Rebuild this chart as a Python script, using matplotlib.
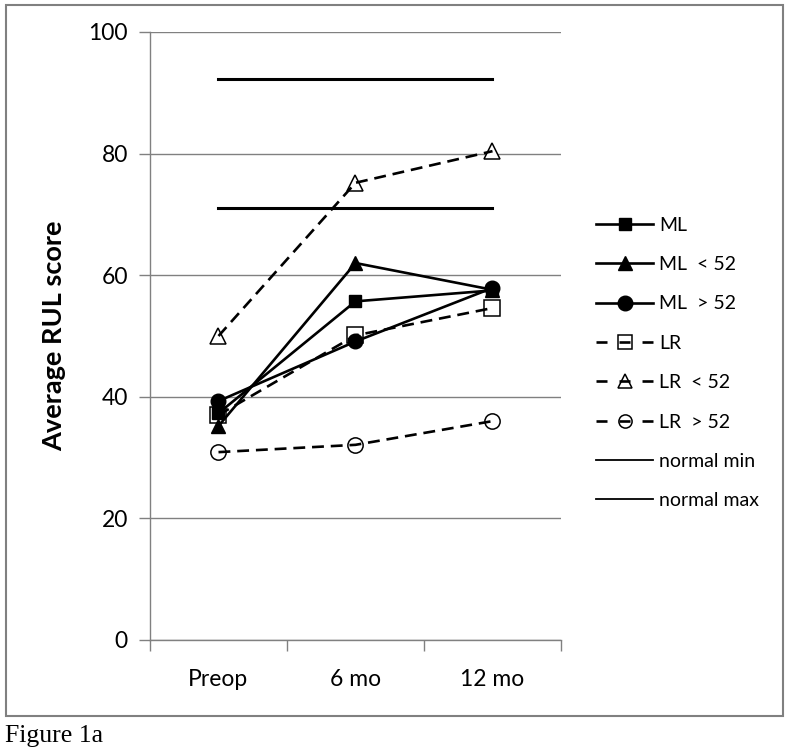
import matplotlib
matplotlib.use("Agg")
import matplotlib.pyplot as plt
from matplotlib.patches import Rectangle
from matplotlib.lines import Line2D
from matplotlib.legend_handler import HandlerTuple

# data
timepoints = ["Preop", "6 mo", "12 mo"]
ml_all = [37.3, 55.7, 57.5]
ml_lt52 = [35.2, 62.0, 57.6]
ml_gt52 = [39.3, 49.1, 57.9]
lr_all = [37.0, 50.1, 54.6]
lr_lt52 = [50.0, 75.2, 80.4]
lr_gt52 = [30.9, 32.1, 36.0]
normal_min = [71.0, 71.0, 71.0]
normal_max = [92.2, 92.2, 92.2]

plt.rcParams['font.family'] = ['Lato', 'DejaVu Sans']

fig = plt.figure(figsize=(7.92, 7.54), dpi=100)
ax = fig.add_axes([150 / 792, 1 - 640 / 754, 411 / 792, 608 / 754])

x = [0, 1, 2]
lw = 1.9
dash = (4.5, 2.6)

series = [
    ("ML", ml_all, "s", "black", "-", 9),
    ("ML  < 52", ml_lt52, "^", "black", "-", 10),
    ("ML  > 52", ml_gt52, "o", "black", "-", 10.5),
    ("LR", lr_all, "s", "white", "--", 11),
    ("LR  < 52", lr_lt52, "^", "white", "--", 11),
    ("LR  > 52", lr_gt52, "o", "white", "--", 11),
]

handles = []
labels = []
for name, vals, mk, face, ls, ms in series:
    if face == "black":
        ln, = ax.plot(x, vals, color="black", lw=lw, marker=mk, ms=ms,
                      mfc="black", mec="black", zorder=4)
        handles.append(ln)
    else:
        # open markers sit under the dashed line, like the original
        mks, = ax.plot(x, vals, ls="none", marker=mk, ms=ms, mfc="white",
                       mec="black", mew=1.1, zorder=3)
        ln, = ax.plot(x, vals, color="black", lw=lw, zorder=4)
        ln.set_dashes(dash)
        # legend gets an even "- o -" pattern
        leg_mk = Line2D([], [], ls="none", marker=mk, ms=ms - 1.5, mfc="white",
                        mec="black", mew=1.1)
        leg_ln = Line2D([], [], color="black", lw=lw, dashes=(4.17, 4.55))
        handles.append((leg_mk, leg_ln))
    labels.append(name)

for name, vals in [("normal min", normal_min), ("normal max", normal_max)]:
    ln, = ax.plot(x, vals, color="black", lw=2.2, zorder=4)
    handles.append(Line2D([], [], color="black", lw=1.3))
    labels.append(name)

ax.set_xlim(-0.5, 2.5)
ax.set_ylim(0, 100)
ax.set_yticks([0, 20, 40, 60, 80, 100])
ax.set_xticks(x)
ax.set_xticklabels(timepoints)
ax.set_xticks([-0.5, 0.5, 1.5, 2.5], minor=True)
ax.tick_params(axis="x", which="major", length=0, pad=21, labelsize=16.5)
ax.tick_params(axis="x", which="minor", length=8, color="#808080", width=1)
ax.tick_params(axis="y", length=8, color="#808080", width=1, pad=8, labelsize=16.5)
ax.grid(axis="y", color="#808080", lw=1)
ax.set_axisbelow(True)
for s in ["top", "right"]:
    ax.spines[s].set_visible(False)
for s in ["left", "bottom"]:
    ax.spines[s].set_color("#808080")
    ax.spines[s].set_linewidth(1)
ax.set_ylabel("Average RUL score", fontsize=19.5, fontweight="bold", labelpad=16)

fig.legend(handles, labels, loc="center left", bbox_to_anchor=(596 / 792, 1 - 363 / 754),
           frameon=False, fontsize=14, handlelength=2.95, handletextpad=0.3,
           labelspacing=1.15, borderpad=0, borderaxespad=0,
           handler_map={tuple: HandlerTuple(ndivide=1)})

fig.patches.append(Rectangle((6 / 792, 1 - 716 / 754), 777 / 792, 711 / 754,
                             transform=fig.transFigure, fill=False,
                             edgecolor="#808080", lw=1.5))
fig.text(5 / 792, 1 - 736 / 754, "Figure 1a", family=["Liberation Serif"],
         fontsize=18.5, va="center", ha="left")

fig.savefig("out.png", dpi=100)
